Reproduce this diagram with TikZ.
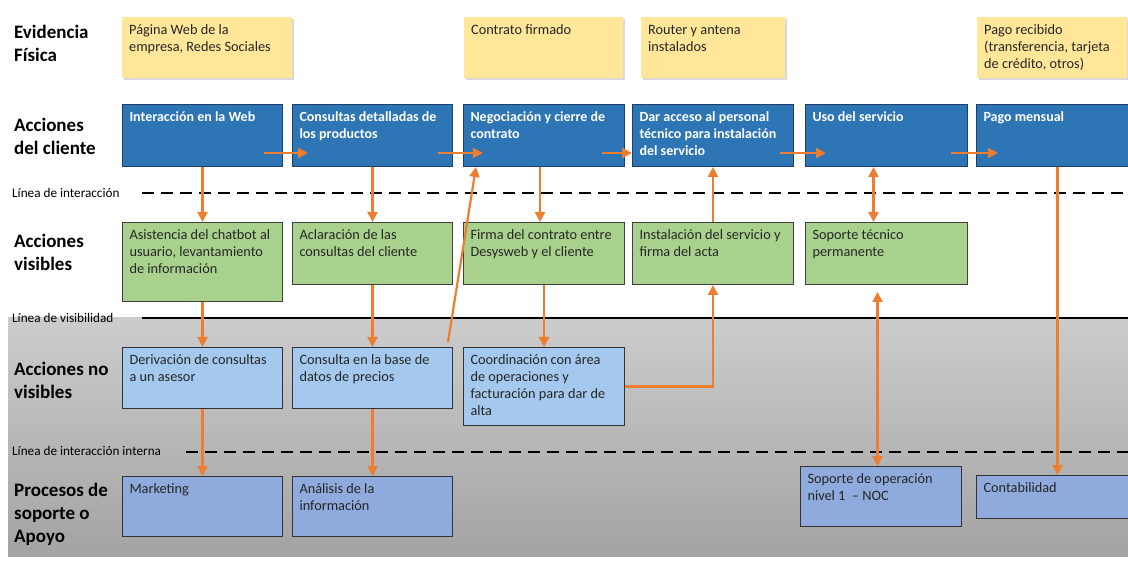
\documentclass[tikz,border=0pt]{standalone}
\usepackage{fontspec}
\setmainfont{Carlito}
\usetikzlibrary{arrows.meta, positioning, shadows}

\definecolor{evid}{HTML}{FFE699}
\definecolor{client}{HTML}{2E75B6}
\definecolor{clientline}{HTML}{1F3F66}
\definecolor{visib}{HTML}{A9D18E}
\definecolor{invis}{HTML}{A4C8EE}
\definecolor{suppt}{HTML}{8FAADC}
\definecolor{flowclr}{HTML}{ED7D31}

% width, height (px), text
\newcommand{\boxtxt}[3]{\parbox[t][\dimexpr#2pt-10pt\relax][t]{#1pt}{\leftskip=7pt\rightskip=0pt plus 1fil\parfillskip=0pt plus 1fil\strut #3}}

\begin{document}
\begin{tikzpicture}[x=1pt, y=-1pt,
  cellbox/.style={anchor=north west, inner xsep=0pt, inner ysep=5pt,
    font=\fontsize{14.3pt}{17pt}\selectfont, text=black!85},
  evbox/.style={cellbox, fill=evid,
    drop shadow={shadow xshift=1.5pt, shadow yshift=-1.5pt, opacity=0.3}},
  clbox/.style={cellbox, fill=client, draw=clientline, line width=1pt,
    text=white, font=\fontsize{14pt}{17pt}\bfseries\selectfont},
  visbox/.style={cellbox, fill=visib, draw=black!75, line width=1pt},
  invbox/.style={cellbox, fill=invis, draw=black!80, line width=1pt},
  supbox/.style={cellbox, fill=suppt, draw=black!80, line width=1pt},
  rowlab/.style={anchor=north west, align=left, inner sep=0pt,
    font=\fontsize{19pt}{23pt}\bfseries\selectfont},
  linelab/.style={anchor=west, inner sep=0pt, font=\fontsize{13.2pt}{15pt}\selectfont},
  sepline/.style={line width=2.5pt, black},
  flow/.style={draw=flowclr, line width=2.2pt, -{Triangle[length=10pt,width=10pt]}},
  biflow/.style={draw=flowclr, line width=2.2pt,
    {Triangle[length=10pt,width=10pt]}-{Triangle[length=10pt,width=10pt]}}]

\useasboundingbox (0,0) rectangle (1128,561);

% background of the backstage part
\shade [top color=black!20, bottom color=black!36] (8,318) rectangle (1128,556);

% row labels
\node [rowlab] (lev) at (14,25)  {Evidencia\\Física};
\node [rowlab] (lcl) at (14,118) {Acciones\\del cliente};
\node [rowlab] (lvi) at (14,234) {Acciones\\visibles};
\node [rowlab] (lin) at (14,362) {Acciones no\\visibles};
\node [rowlab] (lsu) at (14,483) {Procesos de\\soporte o\\Apoyo};

% separating lines
\node [linelab] (lint) at (12,193) {Línea de interacción};
\node [linelab] (lvis) at (12,318) {Línea de visibilidad};
\node [linelab] (lintin) at (12,451) {Línea de interacción interna};
\draw [sepline, dash pattern=on 12pt off 7pt] (142,193) -- (1128,193);
\draw [sepline] (142,318) -- (1128,318);
\draw [sepline, dash pattern=on 12pt off 7pt] (186,452) -- (1128,452);

% physical evidence
\node [evbox] (e1) at (122,17) {\boxtxt{170}{61}{Página Web de la\\empresa, Redes Sociales}};
\node [evbox] (e3) at (464,17) {\boxtxt{159}{61}{Contrato firmado}};
\node [evbox] (e4) at (641,17) {\boxtxt{144}{61}{Router y antena\\instalados}};
\node [evbox] (e6) at (977,17) {\boxtxt{150}{61}{Pago recibido\\(transferencia, tarjeta\\de crédito, otros)}};

% customer actions
\node [clbox] (c1) at (122,104) {\boxtxt{160}{62}{Interacción en la Web}};
\node [clbox] (c2) at (292,104) {\boxtxt{160}{62}{Consultas detalladas de\\los productos}};
\node [clbox] (c3) at (463,104) {\boxtxt{161}{62}{Negociación y cierre de\\contrato}};
\node [clbox] (c4) at (632,104) {\boxtxt{161}{62}{Dar acceso al personal\\técnico para instalación\\del servicio}};
\node [clbox] (c5) at (805,104) {\boxtxt{162}{62}{Uso del servicio}};
\node [clbox] (c6) at (976,104) {\boxtxt{152}{62}{Pago mensual}};

% visible actions
\node [visbox] (v1) at (122,222) {\boxtxt{160}{79}{Asistencia del chatbot al\\usuario, levantamiento\\de información}};
\node [visbox] (v2) at (292,222) {\boxtxt{160}{62}{Aclaración de las\\consultas del cliente}};
\node [visbox] (v3) at (463,222) {\boxtxt{161}{62}{Firma del contrato entre\\Desysweb y el cliente}};
\node [visbox] (v4) at (632,222) {\boxtxt{161}{62}{Instalación del servicio y\\firma del acta}};
\node [visbox] (v5) at (805,222) {\boxtxt{162}{62}{Soporte técnico\\permanente}};

% invisible actions
\node [invbox] (i1) at (122,347) {\boxtxt{160}{61}{Derivación de consultas\\a un asesor}};
\node [invbox] (i2) at (292,347) {\boxtxt{160}{61}{Consulta en la base de\\datos de precios}};
\node [invbox] (i3) at (463,347) {\boxtxt{161}{78}{Coordinación con área\\de operaciones y\\facturación para dar de\\alta}};

% support processes
\node [supbox] (s1) at (122,476) {\boxtxt{160}{60}{Marketing}};
\node [supbox] (s2) at (292,476) {\boxtxt{160}{60}{Análisis de la\\información}};
\node [supbox] (s5) at (800,466) {\boxtxt{161}{60}{Soporte de operación\\nivel 1 \ -- NOC}};
\node [supbox] (s6) at (976,475) {\boxtxt{152}{43}{Contabilidad}};

% flow along the customer actions
\draw [flow] ([shift={(-19,-14)}]c1.south east) -- ([shift={(16,-14)}]c2.south west);
\draw [flow] ([shift={(-15,-14)}]c2.south east) -- ([shift={(20,-14)}]c3.south west);
\draw [flow] ([shift={(-23,-14)}]c3.south east) -- ([shift={(0,-14)}]c4.south west);
\draw [flow] ([shift={(-14,-14)}]c4.south east) -- ([shift={(21,-14)}]c5.south west);
\draw [flow] ([shift={(-17,-14)}]c5.south east) -- ([shift={(22,-14)}]c6.south west);

% vertical flows
\draw [flow] (c1) -- (v1);
\draw [flow] (c2) -- (v2);
\draw [flow] ([xshift=-4]c3.south) -- ([xshift=-4]v3.north);
\draw [flow] (v4) -- (c4);
\draw [biflow] ([xshift=-13]c5.south) -- ([xshift=-13]v5.north);
\draw [flow] (v1) -- (i1);
\draw [flow] (v2) -- (i2);
\draw [flow] (v3) -- (i3);
\draw [flow] (i3.east) -| (v4.south);
\draw [flow] ([shift={(-5,-5)}]i2.north east) -- ([xshift=13]c3.south west);
\draw [flow] (i1) -- (s1);
\draw [flow] (i2) -- (s2);
\draw [biflow, shorten <=7pt] ([xshift=-9]v5.south) -- ([xshift=-9]v5.south |- s5.north);
\draw [flow] ([xshift=5]c6.south) -- ([xshift=5]c6.south |- s6.north);

\end{tikzpicture}
\end{document}
